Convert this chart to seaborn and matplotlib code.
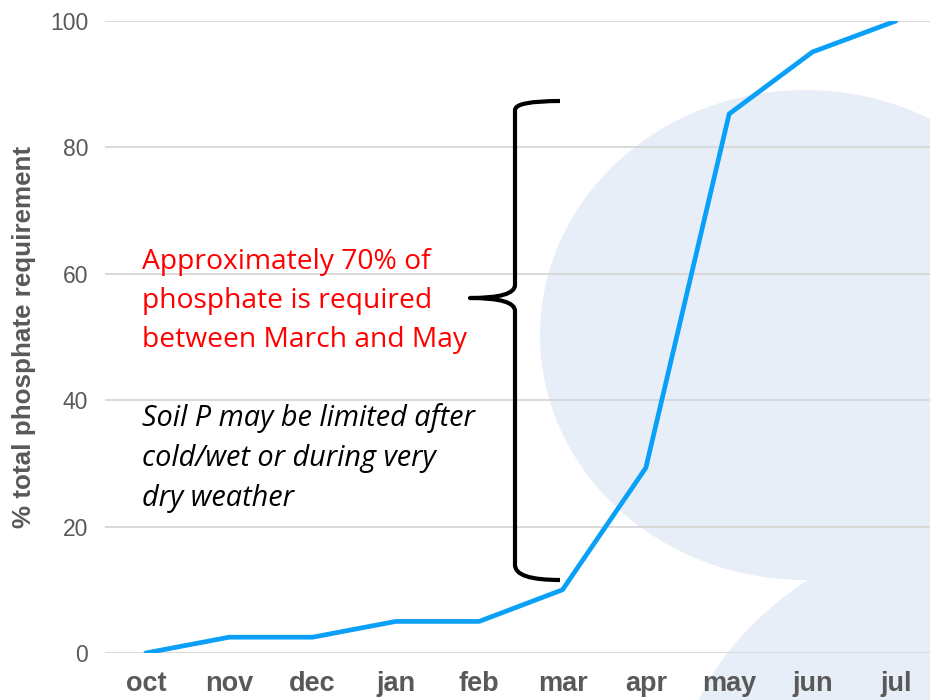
import numpy as np
import pandas as pd
import seaborn as sns
import matplotlib.pyplot as plt
from matplotlib.path import Path
from matplotlib.patches import PathPatch, Ellipse

# cumulative phosphate uptake by month
months = ['oct', 'nov', 'dec', 'jan', 'feb', 'mar', 'apr', 'may', 'jun', 'jul']
pct_required = [0, 2.5, 2.5, 5, 5, 10, 29.3, 85.3, 95.1, 100]
y_ticks = [0, 20, 40, 60, 80, 100]

data = pd.DataFrame({'month': months, 'pct': pct_required})

sns.set_theme(style='white')
plt.rcParams['font.family'] = ['Liberation Sans', 'DejaVu Sans']

fig = plt.figure(figsize=(9.3, 7), dpi=100)

# faint watermark blobs behind the plot
bg = fig.add_axes([0, 0, 1, 1], zorder=0)
bg.set_xlim(0, 930)
bg.set_ylim(700, 0)
bg.axis('off')
bg.add_patch(Ellipse((805, 335), 530, 490, angle=0, color='#E7EEF7', lw=0))
bg.add_patch(Ellipse((930, 700), 520, 330, angle=-25, color='#E7EEF7', lw=0))

ax = fig.add_axes([105 / 930, 47 / 700, 825 / 930, 632 / 700], zorder=1)
ax.set_facecolor('none')

sns.lineplot(data=data, x='month', y='pct', ax=ax, color='#0AA0F8', linewidth=3.4, sort=False)

ax.set_ylim(0, 100)
ax.set_xlim(-0.49, 9.41)
ax.set_yticks(y_ticks)
ax.yaxis.grid(True, color='#D9D9D9', linewidth=1.4)
ax.set_axisbelow(True)
for s in ax.spines.values():
    s.set_visible(False)
ax.tick_params(axis='both', length=0)
ax.tick_params(axis='y', labelsize=16.5, labelcolor='#595959', pad=12)
ax.tick_params(axis='x', labelsize=19.5, labelcolor='#595959', pad=13)
for lbl in ax.get_xticklabels():
    lbl.set_fontweight('bold')
ax.set_xlabel('')
ax.set_ylabel('% total phosphate requirement', fontsize=18.7, fontweight='bold',
              color='#595959', labelpad=10)

# curly brace spanning March to May (pixel coords on an overlay axes)
verts = [(560, 101), (515, 101), (515, 110), (515, 125),
         (515, 285), (515, 298), (470, 298),
         (515, 298), (515, 311), (515, 470),
         (515, 565), (515, 580), (560, 580)]
codes = [Path.MOVETO, Path.CURVE3, Path.CURVE3, Path.LINETO,
         Path.LINETO, Path.CURVE3, Path.CURVE3,
         Path.CURVE3, Path.CURVE3, Path.LINETO,
         Path.LINETO, Path.CURVE3, Path.CURVE3]
over = fig.add_axes([0, 0, 1, 1], zorder=2)
over.set_xlim(0, 930)
over.set_ylim(700, 0)
over.axis('off')
over.add_patch(PathPatch(Path(verts, codes), fill=False, lw=3, color='black',
                         capstyle='butt', joinstyle='round'))

over.text(142, 301, 'Approximately 70% of\nphosphate is required\nbetween March and May',
          color='#FF0000', fontsize=20.3, family='Open Sans', va='center',
          linespacing=1.54)
over.text(142, 458, 'Soil P may be limited after\ncold/wet or during very\ndry weather',
          color='black', fontsize=20.8, family='Open Sans', style='italic',
          va='center', linespacing=1.5)

fig.savefig('out.png', dpi=100)
